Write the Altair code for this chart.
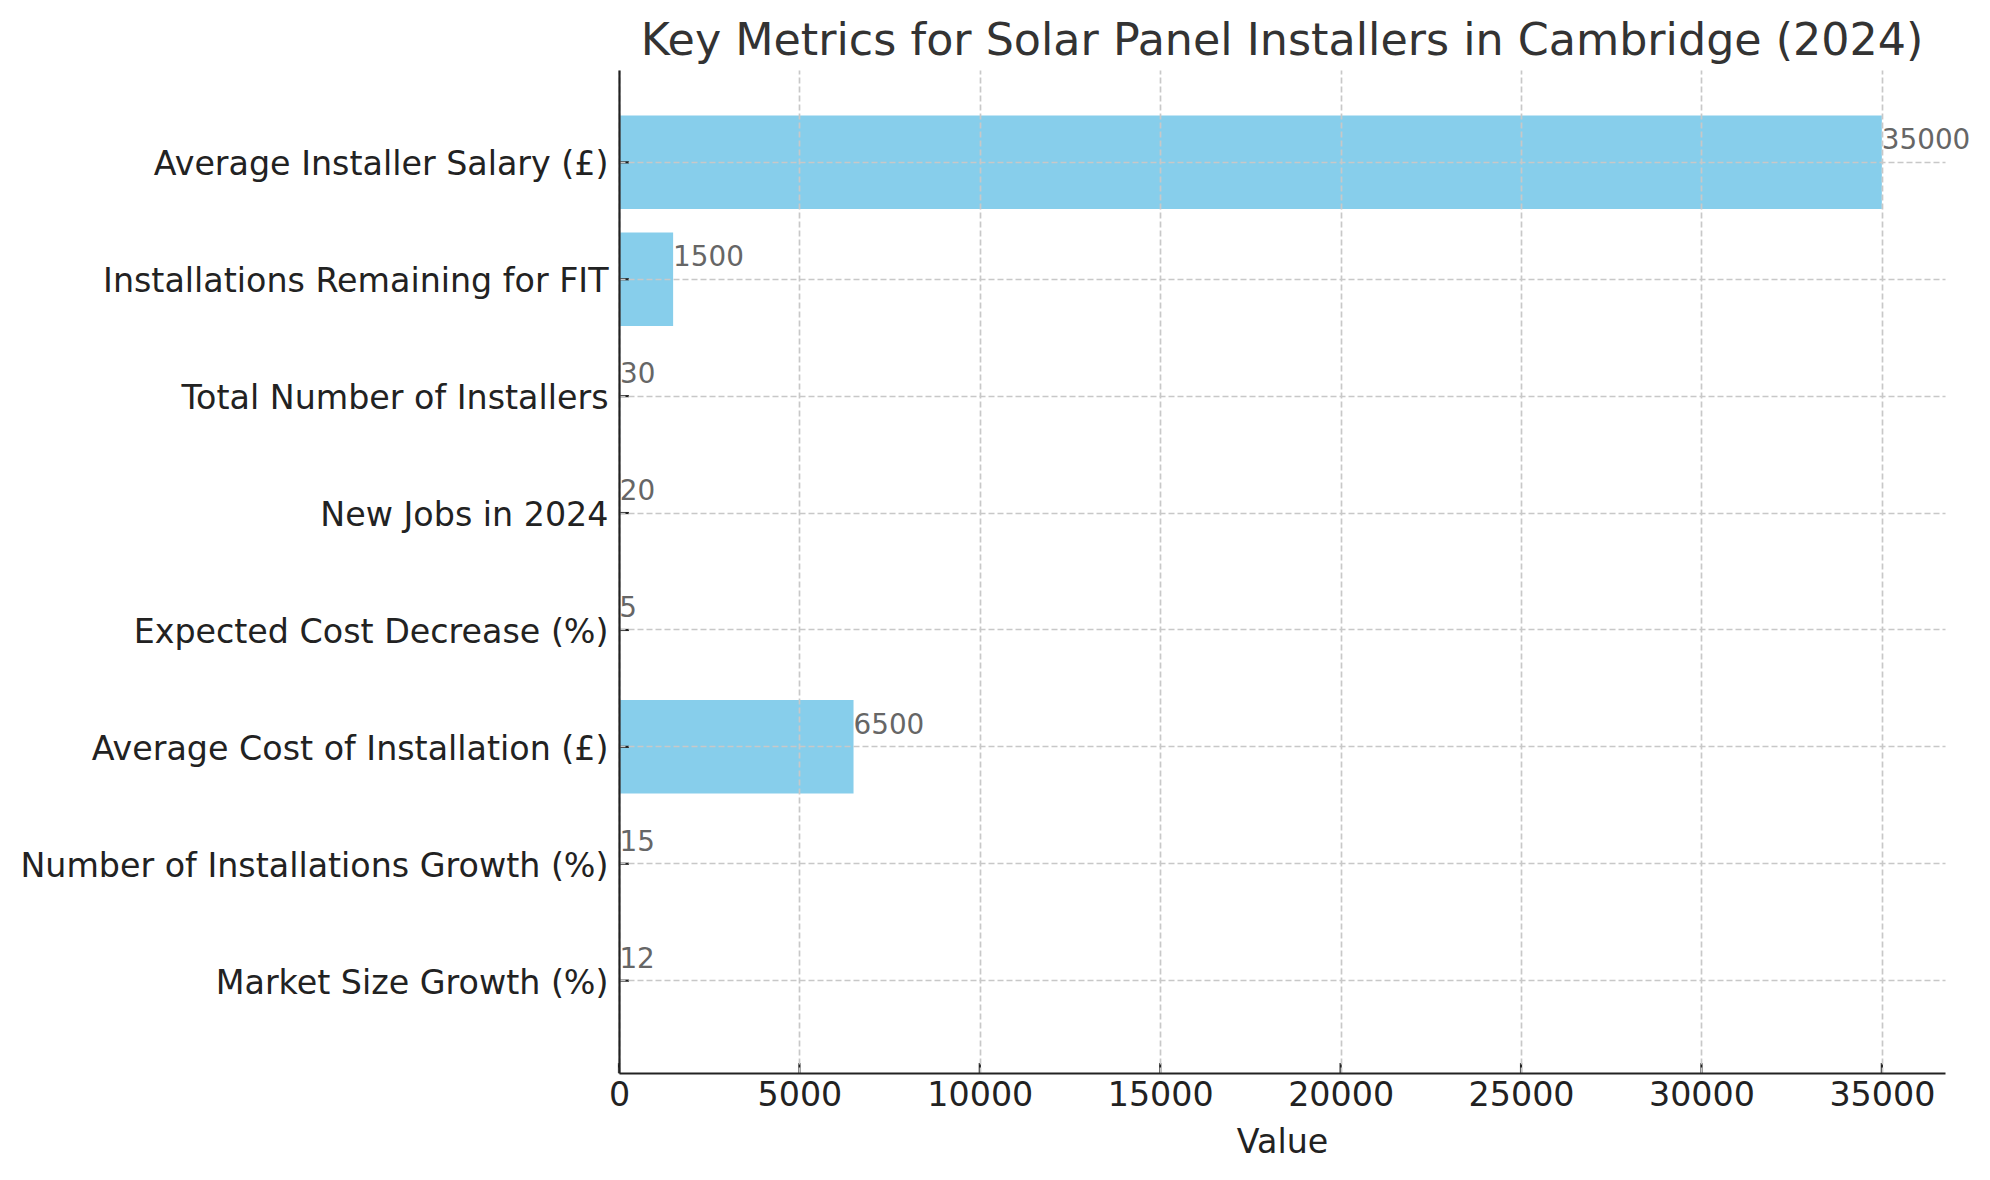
import altair as alt
import pandas as pd

metrics = [
    "Market Size Growth (%)",
    "Number of Installations Growth (%)",
    "Average Cost of Installation (£)",
    "Expected Cost Decrease (%)",
    "New Jobs in 2024",
    "Total Number of Installers",
    "Installations Remaining for FIT",
    "Average Installer Salary (£)",
]
values = [12, 15, 6500, 5, 20, 30, 1500, 35000]
x_ticks = [0, 5000, 10000, 15000, 20000, 25000, 30000, 35000]

W, H = 1326, 1003
FONT = "DejaVu Sans"

df = pd.DataFrame({"Metric": metrics, "Value": values})
ticks_df = pd.DataFrame({"t": x_ticks})
order = list(reversed(metrics))

xscale = alt.Scale(domain=[0, 36750], nice=False, zero=True)
yscale = alt.Scale(paddingInner=0.2, paddingOuter=0.39)

x_axis = alt.Axis(
    values=x_ticks, format="d", title="Value", ticks=False,
    labelFontSize=33.3, labelColor="#222222", labelFont=FONT, labelPadding=6,
    labelFlush=False,
    titleFontSize=33.3, titleColor="#222222", titleFont=FONT, titleFontWeight="normal",
    titlePadding=15,
    domain=True, domainColor="#222222", domainWidth=2.2,
    grid=True, gridColor="#c8c8c8", gridDash=[6, 3], gridWidth=1.7,
    zindex=1,
)
y_axis = alt.Axis(
    title=None, ticks=False,
    labelFontSize=33.3, labelColor="#222222", labelFont=FONT, labelPadding=11,
    labelLimit=1000, labelOffset=3,
    domain=True, domainColor="#222222", domainWidth=2.2,
    grid=True, gridColor="#c8c8c8", gridDash=[6, 3], gridWidth=1.7,
    zindex=1,
)

base = alt.Chart(df)

bars = base.mark_bar(color="#87CEEB").encode(
    x=alt.X("Value:Q", scale=xscale, axis=x_axis),
    y=alt.Y("Metric:N", sort=order, scale=yscale, axis=y_axis),
)

labels = base.mark_text(
    align="left", baseline="alphabetic", dx=0, dy=-13,
    fontSize=27.8, font=FONT, color="#666666",
).encode(
    x=alt.X("Value:Q", scale=xscale),
    y=alt.Y("Metric:N", sort=order, scale=yscale),
    text=alt.Text("Value:Q", format="d"),
)

ytick_marks = base.mark_rule(color="#222222", strokeWidth=2.2).encode(
    y=alt.Y("Metric:N", sort=order, scale=yscale),
    x=alt.value(0),
    x2=alt.value(10),
)

xtick_marks = alt.Chart(ticks_df).mark_rule(color="#222222", strokeWidth=2.2).encode(
    x=alt.X("t:Q", scale=xscale),
    y=alt.value(H - 10),
    y2=alt.value(H),
)

chart = (
    alt.layer(bars, labels, ytick_marks, xtick_marks)
    .properties(
        width=W,
        height=H,
        background="white",
        title=alt.TitleParams(
            "Key Metrics for Solar Panel Installers in Cambridge (2024)",
            fontSize=44.4, font=FONT, color="#333333", fontWeight="normal",
            anchor="middle", baseline="bottom", offset=8, dy=46,
        ),
        autosize=alt.AutoSizeParams(type="none"),
        padding={"left": 611, "top": 62, "right": 35, "bottom": 99},
    )
    .configure_view(strokeWidth=0, stroke="transparent")
)

chart.save("out.html", embed_options={"renderer": "svg", "actions": False})
